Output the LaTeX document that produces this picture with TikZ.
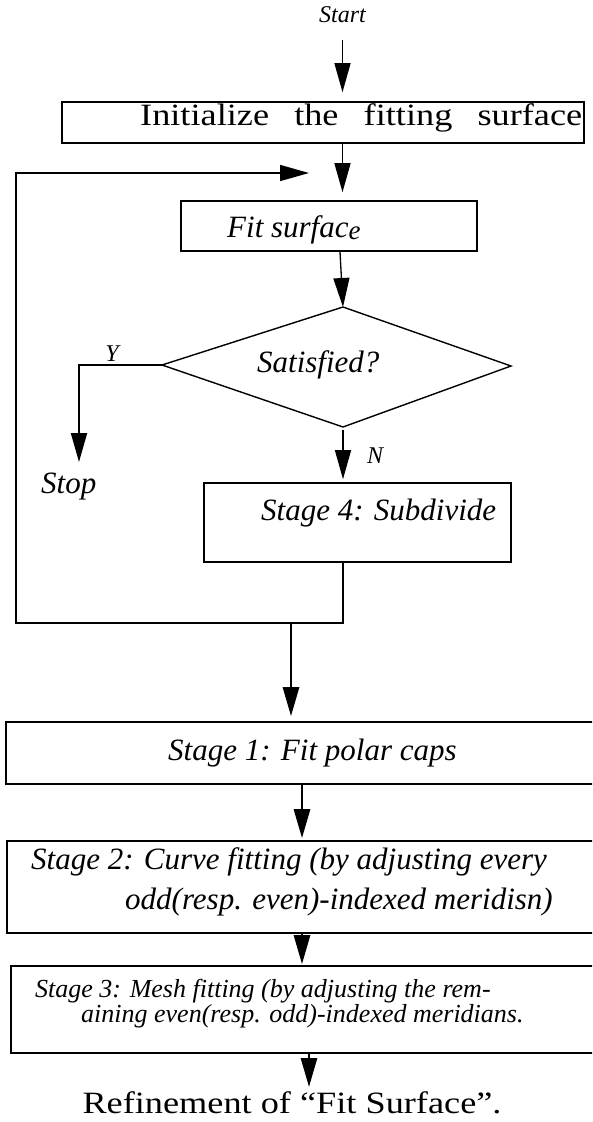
\documentclass[tikz,border=0pt]{standalone}
\usepackage{fontspec}
\setmainfont{Liberation Serif}
\newfontfamily\widefont[FakeStretch=1.17]{Liberation Serif}
\usetikzlibrary{arrows.meta}

% type sizes used in the chart
\newcommand\mainit{\fontsize{31pt}{40pt}\selectfont\itshape}
\newcommand\smallit{\fontsize{26pt}{20pt}\selectfont\itshape}
\newcommand\tagit{\fontsize{24pt}{24pt}\selectfont\itshape}
\newcommand\titlerm{\widefont\fontsize{31pt}{31pt}\selectfont}

\begin{document}
\begin{tikzpicture}[x=1pt,y=-1pt,
  box/.style={draw, line width=1.6pt, rectangle, inner sep=0pt},
  lbl/.style={inner sep=0pt, anchor=base west},
  lblc/.style={inner sep=0pt, anchor=base},
  twoline/.style={inner sep=0pt, anchor=north west, align=left},
  head/.style={-{Triangle[length=29pt,width=16pt]}},
  arrthin/.style={draw, line width=1.3pt, head},
  arrmid/.style={draw, line width=1.8pt, head},
  arrthick/.style={draw, line width=2.8pt, head},
  loopline/.style={draw, line width=1.7pt, head},
]
\useasboundingbox (0,0) rectangle (592,1122);
\fill[white] (0,0) rectangle (592,1122);
\clip (0,0) rectangle (592,1122);

% ---- boxes
\node[box, minimum width=522pt, minimum height=41pt] (init) at (323,122.5) {};
\node[box, minimum width=296pt, minimum height=50pt] (fit)  at (329,226) {};
\node[box, minimum width=307pt, minimum height=79pt] (sub)  at (357.5,522.5) {};
\node[box, minimum width=600pt, minimum height=62pt] (st1)  at (306,753) {};
\node[box, minimum width=600pt, minimum height=92pt] (st2)  at (307,887) {};
\node[box, minimum width=600pt, minimum height=87pt] (st3)  at (311,1009.5) {};

% ---- decision diamond
\coordinate (qN) at (343,307);
\coordinate (qE) at (511,366);
\coordinate (qS) at (343,427);
\coordinate (qW) at (162,365);
\draw[line width=1.4pt, line join=miter] (qN) -- (qE) -- (qS) -- (qW) -- cycle;

% ---- texts
\node[lblc] (tstart) at (342.5,22) {\tagit Start};
\node[lbl] (tinit) at (140,125) {\titlerm\makebox[442pt][s]{Initialize the fitting surface}};
\node[lbl] (tfit) at (227,237) {\mainit Fit surfac\raisebox{-2.5pt}{\fontsize{27pt}{27pt}\selectfont e}};
\node[lbl] (tsat) at (257,372) {\mainit Satisfied?};
\node[lblc] (ty) at (112,361) {\tagit Y};
\node[lblc] (tn) at (375,463) {\tagit N};
\node[lbl] (tstop) at (41,493) {\mainit Stop};
\node[lbl] (tsub) at (261,520) {\mainit Stage 4: Subdivide};
\node[lbl] (ts1) at (168,760) {\mainit Stage 1: Fit polar caps};
\node[twoline, font=\mainit] (ts2) at (31,847)
  {Stage 2: Curve fitting (by adjusting every\\
   \hspace*{94pt}odd(resp. even)-indexed meridisn)};
\node[twoline, font=\smallit] (ts3) at (35,979)
  {Stage 3: Mesh fitting (by adjusting the rem-\\
   \hspace*{46pt}aining even(resp. odd)-indexed meridians.};
\node[lblc] (tref) at (292,1113) {\titlerm Refinement of \textquotedblleft Fit Surface\textquotedblright.};

% ---- helper points
\coordinate (back) at (309,173);
\coordinate (loopbot) at (16,623);
\coordinate (looptop) at (16,173);
\coordinate (ycorner) at (79,365);
\coordinate (stoptip) at (79,462);
\coordinate (merge) at (291,623);
\coordinate (s1out) at ([xshift=-4pt]st1.south);
\coordinate (s2out) at ([xshift=-5pt]st2.south);
\coordinate (s3out) at ([xshift=-2pt]st3.south);

% ---- connectors
\draw[arrthin, shorten >=9pt] ([yshift=-18pt]tstart.south) -- (tstart |- init.north);
\draw[arrthin, shorten >=8pt] (tstart |- init.south) -- (tstart |- fit.north);
\draw[arrthin] ([xshift=11pt]fit.south) -- (qN);
\draw[arrmid] (qW) -- (ycorner) -- (stoptip);
\draw[arrthin, shorten >=3pt] ([yshift=-3pt]qS) -- (qS |- sub.north);
\draw[loopline] (qS |- sub.south) |- (loopbot) -- (looptop) -- (back);
\draw[arrthick, shorten >=5pt] (merge) -- (merge |- st1.north);
\draw[arrthick, shorten >=2pt] (s1out) -- (s1out |- st2.north);
\draw[arrthick, shorten >=1pt] (s2out) -- (s2out |- st3.north);
\draw[arrthick] (s3out) -- (s3out |- 0,1087);
\end{tikzpicture}
\end{document}
